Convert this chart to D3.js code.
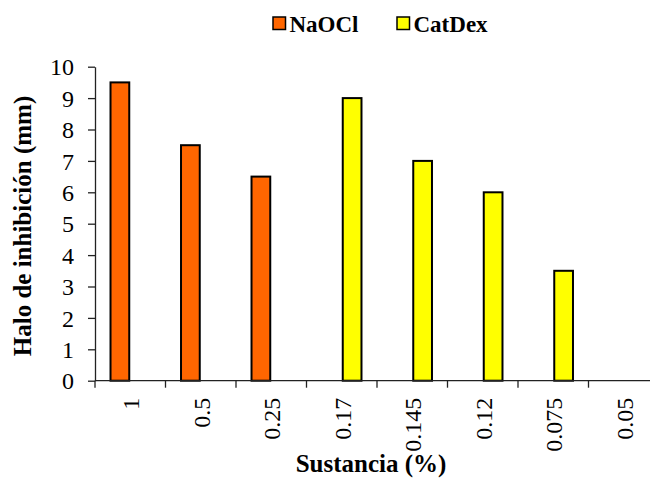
<!DOCTYPE html>
<html>
<head>
<meta charset="utf-8">
<script src="https://cdn.jsdelivr.net/npm/d3@7"></script>
<style>
  html, body { margin: 0; padding: 0; background: #fff; }
  svg { display: block; }
  text { font-family: "Liberation Serif", "Times New Roman", serif; fill: #000; }
</style>
</head>
<body>
<svg id="chart" width="650" height="478"></svg>
<script>
// Concentrations tested (%)
const categories = ["1", "0.5", "0.25", "0.17", "0.145", "0.12", "0.075", "0.05"];
const seriesNames = ["NaOCl", "CatDex"];
// Inhibition halo (mm); null where the substance was not tested at that concentration
const naocl  = [9.5, 7.5, 6.5, null, null, null, null, null];
const catdex = [null, null, null, 9, 7, 6, 3.5, 0];
const yTicks = [0, 1, 2, 3, 4, 5, 6, 7, 8, 9, 10];
const colors = ["#FF6600", "#FFFF00"];

const svg = d3.select("#chart");
const plotLeft = 95, plotTop = 66.7, plotBottom = 380.7;
const step = 70.5;

const x = d3.scaleBand().domain(categories)
  .range([plotLeft, plotLeft + step * categories.length]).padding(0);
const sub = d3.scaleBand().domain(seriesNames)
  .range([0, x.bandwidth()]).paddingInner(0).paddingOuter(0.7);
const y = d3.scaleLinear().domain([0, 10]).range([plotBottom, plotTop]);

const series = [naocl, catdex];

// bars
const g = svg.append("g");
series.forEach((vals, si) => {
  g.selectAll(null)
    .data(categories.map((c, i) => ({ c, v: vals[i] })).filter(d => d.v != null && d.v > 0))
    .enter().append("rect")
    .attr("x", d => x(d.c) + sub(seriesNames[si]) + 1)
    .attr("width", sub.bandwidth() - 2)
    .attr("y", d => y(d.v))
    .attr("height", d => y(0) - y(d.v))
    .attr("fill", colors[si])
    .attr("stroke", "#000")
    .attr("stroke-width", 2);
});

// y axis
const yAxis = svg.append("g")
  .attr("transform", `translate(${plotLeft},0)`)
  .call(d3.axisLeft(y).tickValues(yTicks).tickFormat(d3.format("d"))
    .tickSize(7).tickPadding(14).tickSizeOuter(0));
yAxis.attr("font-family", null);
yAxis.select(".domain").attr("stroke", "#222").attr("stroke-width", 1.3);
yAxis.selectAll(".tick line").attr("stroke", "#222").attr("stroke-width", 1.3);
yAxis.selectAll(".tick text")
  .attr("font-size", 24).attr("dy", "0.34em").attr("fill", "#000");

// x axis: ticks on band boundaries, labels rotated at band centres
const xg = svg.append("g").attr("transform", `translate(0,${plotBottom})`);
xg.append("line")
  .attr("x1", plotLeft).attr("x2", x.range()[1])
  .attr("stroke", "#222").attr("stroke-width", 1.3);
xg.selectAll(".xt")
  .data(categories)
  .enter().append("line")
  .attr("x1", d => x(d)).attr("x2", d => x(d))
  .attr("y1", 0).attr("y2", 7)
  .attr("stroke", "#222").attr("stroke-width", 1.3);
xg.selectAll(".xl")
  .data(categories)
  .enter().append("text")
  .attr("transform", d => `translate(${x(d) + x.bandwidth() / 2 + 9},17) rotate(-90)`)
  .attr("text-anchor", "end")
  .attr("font-size", 24)
  .text(d => d);

// axis titles
svg.append("text")
  .attr("x", 371).attr("y", 472)
  .attr("text-anchor", "middle")
  .attr("font-weight", "bold").attr("font-size", 25)
  .text("Sustancia (%)");

svg.append("text")
  .attr("transform", "translate(31,226) rotate(-90)")
  .attr("text-anchor", "middle")
  .attr("font-weight", "bold").attr("font-size", 25)
  .text("Halo de inhibición (mm)");

// legend
const legendX = [273, 397];
seriesNames.forEach((name, i) => {
  const lg = svg.append("g").attr("transform", `translate(${legendX[i]},17)`);
  lg.append("rect").attr("width", 12.5).attr("height", 12.5)
    .attr("fill", colors[i]).attr("stroke", "#000").attr("stroke-width", 1.5);
  lg.append("text")
    .attr("x", 16.5).attr("y", 15)
    .attr("font-weight", "bold").attr("font-size", 23)
    .text(name);
});
</script>
</body>
</html>
